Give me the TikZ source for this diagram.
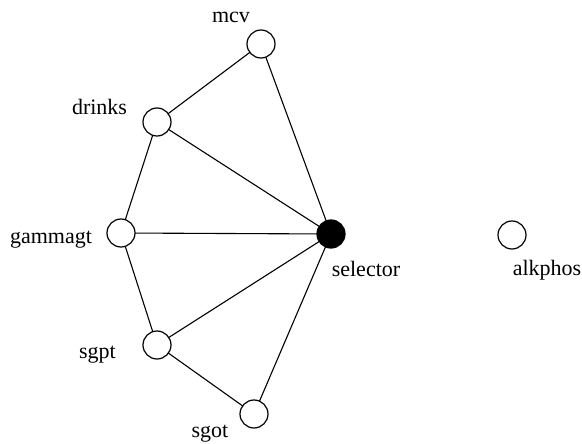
\documentclass[tikz,border=0pt]{standalone}
\usepackage{fontspec}
\setmainfont{Liberation Serif}
\begin{document}
\begin{tikzpicture}[x=1pt,y=-1pt,
  vnode/.style={circle,draw,line width=1.2pt,minimum size=28pt,inner sep=0pt,fill=white},
  snode/.style={vnode,fill=black},
  lab/.style={font=\fontsize{22}{26}\selectfont,inner sep=0pt,anchor=base},
  edge/.style={line width=1.1pt}]
\useasboundingbox (0,0) rectangle (582,444);
% edges first, so the circles sit on top
\coordinate (cmcv) at (261,44);
\coordinate (cdrinks) at (157,122);
\coordinate (cgammagt) at (121,233);
\coordinate (csgpt) at (157,345);
\coordinate (csgot) at (254,414);
\coordinate (cselector) at (331,234);
\draw[edge] (cmcv) -- (cdrinks);
\draw[edge] (cmcv) -- (cselector);
\draw[edge] (cdrinks) -- (cgammagt);
\draw[edge] (cdrinks) -- (cselector);
\draw[edge] (cgammagt) -- (cselector);
\draw[edge] (cgammagt) -- (csgpt);
\draw[edge] (csgpt) -- (cselector);
\draw[edge] (csgpt) -- (csgot);
\draw[edge] (csgot) -- (cselector);
% variables
\node[vnode] (mcv) at (cmcv) {};
\node[vnode] (drinks) at (cdrinks) {};
\node[vnode] (gammagt) at (cgammagt) {};
\node[vnode] (sgpt) at (csgpt) {};
\node[vnode] (sgot) at (csgot) {};
\node[snode] (selector) at (cselector) {};
\node[vnode] (alkphos) at (512,235) {};
% labels
\node[lab] (lmcv) at (231,23) {mcv};
\node[lab] (ldrinks) at (99.5,115) {drinks};
\node[lab] (lgammagt) at (51,243) {gammagt};
\node[lab] (lsgpt) at (97.5,358) {sgpt};
\node[lab] (lsgot) at (210,437) {sgot};
\node[lab] (lselector) at (366,276) {selector};
\node[lab] (lalkphos) at (547,275) {alkphos};
\end{tikzpicture}
\end{document}
